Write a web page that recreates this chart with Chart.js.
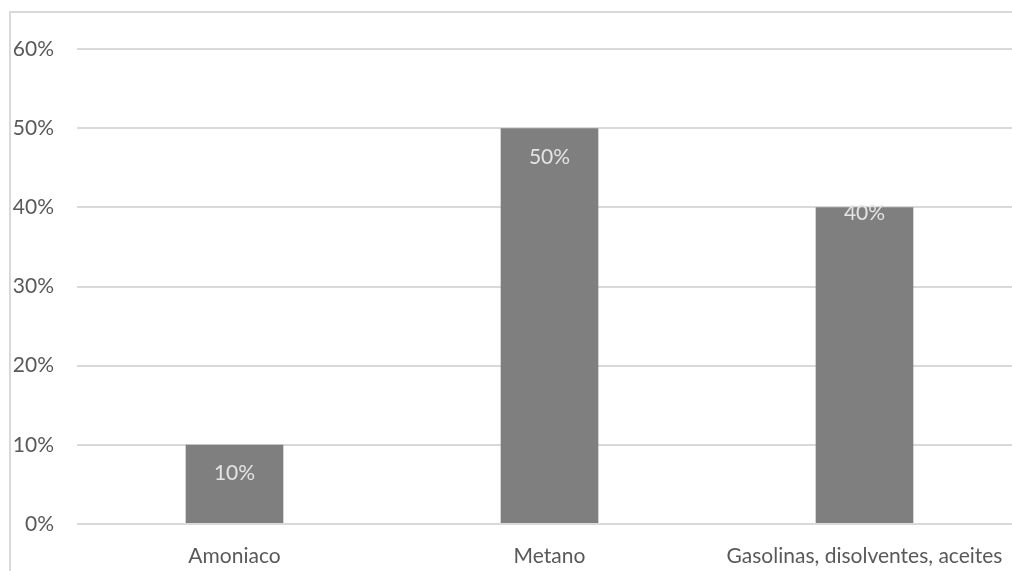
<!DOCTYPE html>
<html>
<head>
<meta charset="utf-8">
<script src="https://cdn.jsdelivr.net/npm/chart.js@4/dist/chart.umd.min.js"></script>
<style>
  html, body { margin: 0; padding: 0; background: #fff; overflow: hidden; }
  #wrap { position: relative; width: 1012px; height: 571px; overflow: hidden; }
  canvas { position: absolute; left: 0; top: 0; }
</style>
</head>
<body>
<div id="wrap">
  <canvas id="c" width="1022" height="571"></canvas>
</div>
<script>
const categories = ["Amoniaco", "Metano", "Gasolinas, disolventes, aceites"];
const shares = [0.10, 0.50, 0.40];
const yTicks = [0, 0.1, 0.2, 0.3, 0.4, 0.5, 0.6];

const fontFamily = "Lato, 'Open Sans', sans-serif";

// light frame along the left and top edges of the chart box
const chartFrame = {
  id: 'chartFrame',
  beforeDraw(chart) {
    const { ctx, width, height } = chart;
    ctx.save();
    ctx.strokeStyle = '#d9d9d9';
    ctx.lineWidth = 2;
    ctx.beginPath();
    ctx.moveTo(10, height + 5);
    ctx.lineTo(10, 12);
    ctx.lineTo(width + 5, 12);
    ctx.stroke();
    ctx.restore();
  }
};

// value labels drawn inside each bar, below its top edge
const labelOffsets = [28, 29, 6];
const barLabels = {
  id: 'barLabels',
  afterDatasetsDraw(chart) {
    const { ctx } = chart;
    const meta = chart.getDatasetMeta(0);
    ctx.save();
    ctx.font = "21px " + fontFamily;
    ctx.fillStyle = "#e4e4e4";
    ctx.textAlign = "center";
    ctx.textBaseline = "middle";
    meta.data.forEach((bar, i) => {
      ctx.fillText(Math.round(shares[i] * 100) + "%", bar.x, bar.y + labelOffsets[i]);
    });
    ctx.restore();
  }
};

new Chart(document.getElementById('c'), {
  type: 'bar',
  data: {
    labels: categories,
    datasets: [{
      data: shares,
      backgroundColor: '#7f7f7f',
      borderWidth: 0,
      categoryPercentage: 0.62,
      barPercentage: 0.5
    }]
  },
  options: {
    responsive: false,
    animation: false,
    layout: { padding: { top: 49, left: 0, right: 0, bottom: 0 } },
    plugins: { legend: { display: false }, tooltip: { enabled: false } },
    scales: {
      x: {
        grid: { display: false },
        border: { display: false },
        ticks: { color: '#595959', font: { family: fontFamily, size: 21 }, padding: 12, maxRotation: 0, autoSkip: false },
        afterFit(scale) { scale.height = 47; }
      },
      y: {
        min: 0, max: 0.6,
        afterBuildTicks(scale) { scale.ticks = yTicks.map(v => ({ value: v })); },
        grid: { color: '#d9d9d9', lineWidth: 2, drawTicks: false },
        border: { display: false },
        ticks: {
          color: '#595959',
          font: { family: fontFamily, size: 21 },
          padding: 23,
          callback: v => Math.round(v * 100) + '%'
        },
        afterFit(scale) { scale.width = 77; }
      }
    }
  },
  plugins: [chartFrame, barLabels]
});
</script>
</body>
</html>
